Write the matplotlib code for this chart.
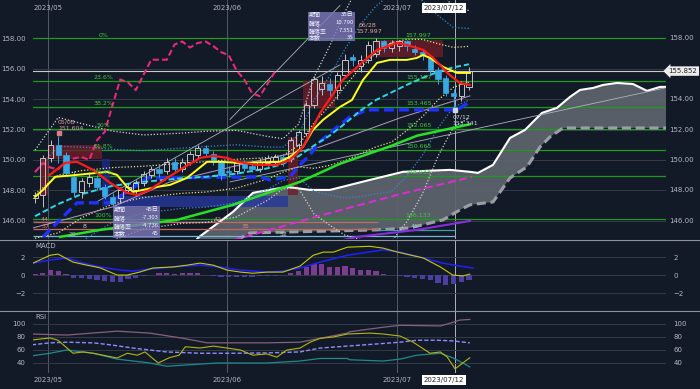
import matplotlib
matplotlib.use("Agg")
import matplotlib.pyplot as plt
import matplotlib.transforms as mtransforms
from matplotlib.patches import Rectangle, Polygon
from matplotlib.lines import Line2D
import numpy as np

plt.rcParams['font.family'] = ['DejaVu Sans', 'Noto Sans CJK JP']

# ---------------- data (bar index 0 = first candle) ----------------
opens = [147.5, 147.7, 150.1, 151.0, 150.3, 148.9, 147.9, 148.5, 148.8, 148.2,
         147.55, 147.5, 148.0, 148.0, 148.5, 149.0, 149.4, 149.3, 149.9, 149.4,
         149.9, 150.3, 150.8, 150.4, 149.9, 149.3, 149.3, 149.8, 149.6, 149.4,
         149.8, 149.9, 150.2, 150.1, 151.0, 151.8, 153.6, 154.7, 155.0, 154.6,
         155.6, 156.8, 156.2, 156.6, 157.0, 157.8, 157.4, 157.5, 157.8, 157.3,
         157.1, 156.7, 155.9, 155.4, 154.4, 154.2, 154.8]
highs = [147.9, 150.3, 151.3, 151.604, 150.5, 149.3, 148.8, 149.2, 149.0, 148.4,
         147.8, 148.2, 148.5, 148.7, 149.3, 149.6, 149.6, 150.1, 150.1, 150.1,
         150.6, 151.0, 151.0, 150.6, 150.0, 149.6, 150.0, 150.0, 150.0, 150.1,
         150.3, 150.4, 150.4, 151.5, 152.0, 153.8, 155.5, 155.5, 155.4, 155.8,
         157.0, 157.0, 156.9, 157.8, 157.997, 157.9, 157.9, 157.9, 157.9, 157.6,
         157.3, 156.9, 156.1, 155.6, 154.7, 155.2, 156.1]
lows = [147.2, 146.9, 149.9, 149.8, 149.0, 147.6, 147.5, 148.2, 148.0, 147.4,
        146.9, 147.2, 147.8, 147.7, 148.3, 148.8, 148.9, 149.1, 149.2, 149.2,
        149.7, 150.1, 150.2, 149.7, 148.7, 148.9, 149.1, 149.3, 149.2, 149.2,
        149.6, 149.7, 149.6, 149.9, 150.7, 151.6, 153.4, 154.3, 154.2, 154.0,
        155.4, 156.2, 155.8, 156.4, 156.8, 157.1, 157.1, 157.2, 157.2, 156.9,
        156.6, 155.6, 155.0, 154.2, 153.341, 153.9, 154.6]
closes = [147.7, 150.1, 151.0, 150.3, 149.15, 147.9, 148.6, 148.9, 148.2, 147.6,
          147.2, 148.0, 148.2, 148.5, 149.1, 149.4, 149.15, 149.9, 149.4, 149.9,
          150.4, 150.8, 150.45, 149.9, 149.0, 149.2, 149.8, 149.5, 149.4, 149.9,
          150.1, 150.2, 150.0, 151.3, 151.85, 153.6, 155.3, 155.1, 154.6, 155.6,
          156.6, 156.6, 156.6, 157.6, 157.8, 157.4, 157.7, 157.8, 157.5, 157.1,
          156.9, 155.9, 155.3, 154.4, 154.2, 155.0, 155.852]
last_price = 155.852
chikou_shift = 25

# moving averages (knots)
ma_red_x = [1.9, 3.9, 5.4, 7.5, 9.7, 11.9, 13.2, 14.8, 17, 18.7, 21.3, 23, 24.8, 26.1, 28.6,
            31.2, 32.9, 34.6, 35.9, 36.8, 39.7, 42.3, 44.1, 46.7, 48, 50.1, 51.4, 53.2, 54.8, 56.1]
ma_red_y = [149.02, 149.81, 149.88, 149.35, 148.49, 147.83, 147.70, 148.03, 148.8, 149.35, 150.14,
            150.27, 150.14, 149.88, 149.68, 149.68, 150.0, 150.86, 152.18, 153.1, 155.27, 156.45,
            157.24, 157.70, 157.57, 157.24, 156.72, 155.73, 155.07, 154.94]
tenkan_x = [0, 1.03, 2.58, 5.42, 8, 9.29, 10.58, 11.87, 12.65, 13.94, 15.74, 17.42, 19.61, 20.9,
            22.19, 23.87, 26.45, 31.61, 32.9, 34.58, 35.87, 37.16, 39.35, 40.9, 42.32, 44.13, 45.81,
            48, 49.29, 50.06, 50.97, 52.65, 54.45, 56.13]
tenkan_y = [147.57, 148.03, 148.89, 149.02, 149.15, 149.22, 149.02, 148.23, 147.90, 148.03, 148.23,
            148.36, 148.82, 149.35, 149.88, 149.88, 149.81, 149.88, 150.21, 150.86, 151.98, 152.64,
            153.49, 153.95, 155.27, 156.39, 156.59, 156.59, 156.72, 156.91, 156.72, 156.13, 155.73, 155.73]
kijun_x = [1.03, 2.84, 5.42, 9.68, 12.26, 14.45, 29.03, 30.32, 32.9, 34.19, 35.48, 36.77, 38.06,
           40.65, 42.84, 54.45, 56.13]
kijun_y = [144.94, 145.86, 147.18, 147.18, 148.03, 148.82, 148.89, 148.69, 148.89, 149.68, 150.34,
           151.19, 151.78, 152.84, 153.30, 153.30, 153.82]
ma_green_x = [3.23, 8.39, 18.32, 25.55, 34.19, 39.35, 45.81, 49.3, 56.13]
ma_green_y = [144.94, 145.40, 146.06, 147.05, 148.56, 149.75, 150.9, 151.6, 152.35]
ma_magenta_x = [21.3, 27.1, 37.16, 46.71, 56.39]
ma_magenta_y = [144.1, 144.94, 146.39, 147.70, 148.89]
ma_purple_x = [34.2, 41.55, 49.29, 56.13]
ma_purple_y = [144.1, 144.94, 145.40, 145.99]
ma_lav_x = [-0.26, 10.06, 17.42, 26.45, 36.77, 47.1, 56.13]
ma_lav_y = [145.53, 146.92, 148.56, 149.68, 150.86, 152.77, 154.22]

# hand-drawn trend lines: (x0, y0, x1, y1)
trend_lines = [(25.16, 148.56, 81.29, 154.74),
               (7.74, 147.18, 39.35, 156.26),
               (25.16, 152.67, 39.35, 160.17)]

# bollinger (mid line drawn as the cyan dashed line)
bb_x = [0, 3, 6, 10, 14, 19, 22, 26, 30, 32, 34, 36, 38, 40, 42, 44, 46, 48, 50, 52, 54, 56]
bb_mid = [146.3, 147.1, 147.75, 148.3, 148.56, 148.8, 148.89, 149.1, 149.45, 149.75, 150.25,
          150.95, 151.6, 152.4, 153.25, 153.95, 154.45, 154.95, 155.4, 155.8, 156.1, 156.3]
bb_sigma = [1.45, 1.9, 1.55, 1.2, 1.03, 0.99, 1.0, 0.95, 0.70, 0.55, 0.70, 1.5, 1.96, 2.45,
            2.83, 3.09, 3.27, 3.0, 2.54, 1.85, 1.31, 1.18]

# ichimoku cloud spans
span_a_x = [20, 21.03, 25.55, 28.13, 32.52, 35.48, 38.06, 43.23, 47.48, 53.55, 56.13, 57.16, 59.1,
            61.29, 63.23, 64.26, 65.42, 67.35, 69.03, 70.32, 72, 73.29, 75.1, 77.16, 78.97, 80.65, 81.6]
span_a_y = [144.1, 144.88, 146.59, 147.84, 148.23, 148.03, 148.03, 148.69, 149.22, 149.35, 149.22,
            149.15, 149.68, 151.45, 151.98, 152.51, 153.1, 153.43, 154.15, 154.61, 154.74, 154.94,
            155.07, 155.0, 154.55, 154.81, 154.81]
span_b_x = [21.29, 27.74, 44.13, 48.39, 52.65, 54.84, 56.13, 59.1, 61.29, 63.48, 65.16, 66.45, 68.13, 81.6]
span_b_y = [143.4, 145.2, 145.4, 145.53, 146.06, 146.72, 147.05, 147.24, 148.82, 149.55, 150.86,
            151.52, 152.11, 152.11]

# fibonacci retracement (06/28 high -> low)
fib_levels = [157.997, 155.197, 153.465, 152.065, 150.665, 148.933, 146.133]
fib_pct = ['0%', '23.6%', '38.2%', '50%', '61.8%', '76.4%', '100%']

# MACD
macd_x = [-0.26, 1.94, 2.97, 4.9, 6.7, 8.4, 10.6, 11.9, 13.5, 15.2, 17.8, 19.6, 21.3, 23, 24.8,
          26.5, 28.1, 29.9, 32, 34.2, 35.9, 37.2, 38.5, 40.3, 43.2, 44.9, 46.8, 50.1, 52.3, 53.9, 55.2, 56.1]
macd_y = [1.33, 2.2, 2.33, 1.44, 1.1, 0.8, 0.0, 0.0, 0.33, 0.78, 0.9, 1.1, 1.33, 1.1, 0.55, 0.33,
          0.2, 0.33, 0.33, 1.0, 2.2, 2.55, 2.55, 3.1, 3.2, 3.0, 2.55, 1.9, 0.9, 0.0, -0.1, 0.1]
signal_x = [-0.26, 1.94, 4.13, 6.2, 8.4, 10.97, 12.6, 14.8, 17.8, 21.3, 23.9, 26.5, 29.9, 32,
            34.2, 36.8, 40.3, 44.9, 47.1, 50.1, 52.6, 54.8, 56.5]
signal_y = [1.33, 1.67, 1.9, 1.33, 0.9, 0.55, 0.44, 0.67, 0.9, 1.1, 0.9, 0.55, 0.33, 0.44,
            0.78, 1.44, 2.2, 2.8, 2.55, 1.9, 1.33, 1.0, 0.78]
macd_hist = [0.1, 0.2, 0.6, 0.5, 0.15, -0.3, -0.3, -0.4, -0.55, -0.7,
             -0.8, -0.75, -0.4, -0.3, -0.05, 0.05, 0.2, 0.2, 0.15, 0.2,
             0.25, 0.2, 0.05, -0.05, -0.2, -0.2, -0.2, -0.25, -0.2, -0.15,
             -0.1, -0.05, 0.05, 0.2, 0.4, 0.9, 1.2, 1.2, 0.9, 0.9,
             1.0, 0.8, 0.6, 0.6, 0.4, 0.15, 0.05, -0.05, -0.2, -0.3,
             -0.45, -0.6, -0.85, -1.1, -1.0, -0.8, -0.6]

# RSI
rsi_x = [-0.39, 1.94, 2.97, 4.9, 6.2, 7.5, 10.6, 11.9, 13.2, 14.2, 15.9, 17.3, 18.6, 19.4, 21.3,
         23, 24.8, 26.5, 28.1, 29.9, 31.2, 32.5, 34.2, 35.5, 36.8, 38.5, 40.3, 43.2, 44.9, 47.1,
         48.8, 50.97, 52.3, 53.2, 54.2, 55.2, 56.1]
rsi_y = [75.4, 78.5, 75, 55, 57, 55, 47.7, 55, 52, 57, 40, 48, 52, 65, 63, 66, 63, 60, 52, 54,
         49, 60, 63, 72, 78, 80, 84.6, 86, 84.6, 81.5, 72, 55, 57, 49, 31, 40, 48]
rsi_mid_x = [-0.39, 1.94, 4.1, 7.5, 9.7, 12.6, 17, 21.3, 25.5, 29.9, 34.2, 36.8, 40.3, 44.9, 47.1,
             49.3, 51.9, 53.9, 56.1]
rsi_mid_y = [68, 71, 72, 71, 68, 63, 57, 55, 55, 55.5, 57, 63, 66, 70, 72, 75, 75, 74, 71]
rsi_hi_x = [-0.39, 4.1, 10.6, 14.8, 19.1, 22.2, 25.5, 29.9, 34.2, 36.8, 40.3, 40.6, 44.9, 47.1,
            52.3, 53.5, 54.8, 56.1]
rsi_hi_y = [84.6, 83, 89, 86, 78, 71, 71, 71, 72, 78, 86, 88, 95, 98, 97, 101, 106, 107]
rsi_lo_x = [-0.39, 1.94, 4.1, 7.5, 10.6, 14.8, 17, 19.6, 23.5, 29.9, 34.2, 36.8, 40.3, 40.6, 44.9,
            47.1, 49.3, 52.3, 53.9, 55.2, 56.1]
rsi_lo_y = [51, 55, 60, 55, 46, 40, 35, 37, 40, 40, 43, 47, 47, 45, 43, 46, 52, 55, 48, 40, 34]

# date markers
month_pos = [1.7, 24.8, 46.7]
month_labels = ['2023/05', '2023/06', '2023/07']
cursor_pos = 54.2
cursor_label = '2023/07/12'

# ---------------- colours ----------------
BG = '#131a27'
GRID = '#333a49'
TXT = '#b3b8c2'

fig = plt.figure(figsize=(7, 3.89), dpi=100, facecolor=BG)
L, W = 33 / 700, 633 / 700
ax = fig.add_axes([L, 1 - 239 / 389, W, 239 / 389])
axm = fig.add_axes([L, 1 - 311 / 389, W, 71 / 389])
axr = fig.add_axes([L, 1 - 373 / 389, W, 62 / 389])
XMIN, XMAX = -0.26, 81.42

for a in (ax, axm, axr):
    a.set_facecolor(BG)
    a.set_xlim(XMIN, XMAX)
    for s in a.spines.values():
        s.set_visible(False)
    a.set_xticks([])
    a.tick_params(axis='y', which='major', left=False, right=False, labelleft=True,
                  labelright=True, labelsize=5, colors=TXT, pad=2)
    for m in month_pos:
        a.axvline(m, color='#5d6472', lw=0.6, zorder=1)
    a.axvline(cursor_pos, color='#c9ccd2', lw=0.6, zorder=1)

# ---------------- main price panel ----------------
price_ticks = [146, 148, 150, 152, 154, 156, 158]
ax.set_ylim(144.8, 160.53)
ax.set_yticks(price_ticks)
ax.set_yticklabels(['%.2f' % v for v in price_ticks])
ax.tick_params(axis='y', labelright=False)
blend = mtransforms.blended_transform_factory(ax.transAxes, ax.transData)
for v in price_ticks:
    ax.axhline(v, color=GRID, lw=0.7, zorder=1)
    # right hand label of 156 is hidden behind the price tag
    if abs(v - last_price) > 0.5:
        ax.text(1.0045, v, '%.2f' % v, transform=blend, fontsize=5, color=TXT, va='center',
                ha='left', clip_on=False)

# ichimoku cloud
cloud = Polygon(list(zip(span_a_x, span_a_y)) + list(zip(span_b_x, span_b_y))[::-1],
                closed=True, fc='#5d626c', ec='none', alpha=0.95, zorder=2)
ax.add_patch(cloud)
ax.plot(span_b_x, span_b_y, color='#9b9ea4', lw=2.2, ls=(0, (3, 1.5)), zorder=3)
ax.plot(span_a_x, span_a_y, color='white', lw=1.5, zorder=3)

# fibonacci lines
for lv, pc in zip(fib_levels, fib_pct):
    ax.axhline(lv, color='#1f9a1f', lw=0.9, zorder=2)
    ax.text(8.8, lv + 0.06, pc, color='#3cc83c', fontsize=4.5, ha='center', va='bottom', zorder=9)
    ax.text(49.5, lv + 0.06, '%.3f' % lv, color='#3cc83c', fontsize=4.5, ha='center', va='bottom', zorder=9)

# price line
ax.axhline(last_price, color='#c9c9c9', lw=0.8, zorder=2)

# shaded boxes
boxes = [(0.6, 1.7, 147.7, 150.1, '#7a1e2a'), (1.7, 8.6, 150.07, 151.0, '#6e1d28'),
         (32.6, 33.9, 147.7, 151.5, '#6e1d28'), (34.6, 38.7, 153.4, 155.2, '#6e1d28'),
         (44.0, 52.6, 156.8, 157.9, '#6e1d28'),
         (8.65, 9.68, 147.0, 150.07, '#1b2a8a'), (10.1, 32.6, 146.92, 147.6, '#27379c')]
for x0, x1, y0, y1, col in boxes:
    ax.add_patch(Rectangle((x0, y0), x1 - x0, y1 - y0, fc=col, ec='none', alpha=0.8, zorder=2))

# count lines at the bottom
ax.hlines([145.9, 145.47], -0.3, 44.2, color='#c06a62', lw=0.9, zorder=3)
ax.hlines(145.4, 44.2, 54.2, color='#3f9fa6', lw=0.9, zorder=3)
ax.hlines(144.97, -0.3, 54.2, color='#76b6d6', lw=0.9, zorder=3)
count_labels = [(1.3, 146.1, '44', '#d88a8a'), (1.3, 145.62, '37', '#d88a8a'),
                (6.45, 145.62, '8', '#d0d0d0'), (4.9, 145.12, '29', '#a8b0c0'),
                (23.6, 146.1, '42', '#d88a8a'), (27.1, 145.62, '35', '#d88a8a'),
                (32.0, 145.12, '52', '#c0c8d8'), (49.0, 145.62, '41', '#8fc6e0')]
for x, y, t, c in count_labels:
    ax.text(x, y, t, color=c, fontsize=4.5, ha='center', va='center', zorder=9)

# bollinger bands
bb_mid_a = np.array(bb_mid)
bb_sig_a = np.array(bb_sigma)
for k, col in [(1, '#e6dc8c'), (2, '#3a86c8'), (3, '#d2d2d2')]:
    for sgn in (1, -1):
        ax.plot(bb_x, bb_mid_a + sgn * k * bb_sig_a, color=col, lw=0.9, ls=(0, (1, 1.5)), zorder=3)

# thin lines
ax.plot(ma_lav_x, ma_lav_y, color='#b89ac0', lw=0.7, zorder=3)
for x0, y0, x1, y1 in trend_lines:
    ax.plot([x0, x1], [y0, y1], color='#aeb2ba', lw=0.6, zorder=3)

# moving averages
ax.plot(ma_purple_x, ma_purple_y, color='#8a2be2', lw=1.5, zorder=4)
ax.plot(ma_magenta_x, ma_magenta_y, color='#e02ad8', lw=1.4, ls=(0, (4, 2)), zorder=4)
ax.plot(ma_green_x, ma_green_y, color='#27e027', lw=1.8, zorder=4)
ax.plot(kijun_x, kijun_y, color='#1f30ff', lw=2.4, ls=(0, (3, 1.5)), zorder=4)
ax.plot(bb_x, bb_mid, color='#2fd6e6', lw=1.4, ls=(0, (3, 1.5)), zorder=4)
ax.plot(tenkan_x, tenkan_y, color='#ffff1a', lw=1.4, zorder=7)
ax.plot(ma_red_x, ma_red_y, color='#ff1a1a', lw=1.6, zorder=7)

# chikou span
idx = np.arange(len(closes))
ax.plot(idx[chikou_shift:] - chikou_shift, closes[chikou_shift:], color='#e8287a', lw=1.5,
        ls=(0, (3, 1.5)), zorder=4)

# candles
for i in idx:
    o, h, l, c = opens[i], highs[i], lows[i], closes[i]
    lo_b, hi_b = min(o, c), max(o, c)
    if c >= o:
        col = '#c4c4c8'
        ax.add_patch(Rectangle((i - 0.33, lo_b), 0.66, max(hi_b - lo_b, 0.04), fc='none', ec=col,
                               lw=0.7, zorder=6))
    else:
        col = '#3aa8e2'
        ax.add_patch(Rectangle((i - 0.33, lo_b), 0.66, max(hi_b - lo_b, 0.04), fc=col, ec=col,
                               lw=0.5, zorder=6))
    ax.vlines(i, hi_b, h, color=col, lw=0.7, zorder=6)
    ax.vlines(i, l, lo_b, color=col, lw=0.7, zorder=6)

# period boxes
jp = ['Noto Sans CJK JP', 'DejaVu Sans']
info_boxes = [(35.2, 41.3, 157.84, 159.75, [159.55, 159.03, 158.5, 158.04],
               ['35日', '10.790', '7.351', '35']),
              (10.06, 16.1, 144.88, 146.98, [146.72, 146.19, 145.66, 145.14],
               ['45日', '-7.303', '-4.736', '45'])]
for x0, x1, y0, y1, rows, vals in info_boxes:
    ax.add_patch(Rectangle((x0, y0), x1 - x0, y1 - y0, fc='#7d79b9', ec='none', alpha=0.8, zorder=8))
    for ry, lab, val in zip(rows, ['期間', '騰落', '騰落率', '本数'], vals):
        ax.text(x0 + 0.15, ry, lab, family=jp, fontsize=4.3, color='#f2f2ff', va='center', zorder=9)
        ax.text(x1 - 0.15, ry, val, family=jp, fontsize=4.3, color='#f2f2ff', va='center',
                ha='right', zorder=9)

# point annotations
ax.plot(3.1, 151.78, 's', color='#e07b86', ms=2.5, zorder=9)
ax.plot(54.2, 153.3, 's', color='#c8d8f0', ms=2.2, zorder=9)
notes = [(2.97, 152.5, '05/08', '#d99c9c'), (2.97, 152.05, '151.604', '#d99c9c'),
         (41.7, 158.9, '06/28', '#e3a3a3'), (41.4, 158.43, '157.997', '#e3a3a3'),
         (53.9, 152.84, '07/12', '#c8d0e0'), (53.9, 152.42, '153.341', '#c8d0e0')]
for x, y, t, c in notes:
    ax.text(x, y, t, color=c, fontsize=4.5, va='center', zorder=9)

# price tag and date labels
ax.text(1.004, last_price, '%.3f' % last_price, transform=blend, fontsize=5, color='#222',
        va='center', ha='left', clip_on=False, zorder=10,
        bbox=dict(boxstyle='larrow,pad=0.25', fc='#ececec', ec='none'))
xblend = ax.get_xaxis_transform()
for m, lab in zip(month_pos, month_labels):
    ax.text(m, 0.967, lab, transform=xblend, fontsize=5, color=TXT, ha='center', va='center')
    axr.text(m, -0.115, lab, transform=axr.get_xaxis_transform(), fontsize=5, color=TXT,
             ha='center', va='center', clip_on=False)
for a, yy in ((ax, 0.967), (axr, -0.115)):
    a.text(52.8, yy, cursor_label, transform=a.get_xaxis_transform(), fontsize=5, color='#222',
           ha='center', va='center', clip_on=False, zorder=10,
           bbox=dict(boxstyle='square,pad=0.25', fc='white', ec='none'))

# ---------------- MACD panel ----------------
axm.set_ylim(-4.0, 3.9)
axm.set_yticks([-2, 0, 2])
for v in [-2, 0, 2]:
    axm.axhline(v, color=GRID, lw=0.7, zorder=1)
hist_cols = ['#7d3d8f' if v >= 0 else '#4b3fa0' for v in macd_hist]
axm.bar(idx, macd_hist, width=0.66, color=hist_cols, zorder=2)
axm.plot(signal_x, signal_y, color='#2020ff', lw=1.1, zorder=3)
axm.plot(macd_x, macd_y, color='#c8c80a', lw=0.8, zorder=3)
axm.text(0.004, 0.92, 'MACD', transform=axm.transAxes, fontsize=5, color=TXT, va='center')

# ---------------- RSI panel ----------------
axr.set_ylim(24.6, 120)
axr.set_yticks([40, 60, 80, 100])
for v in [40, 60, 80, 100]:
    axr.axhline(v, color=GRID, lw=0.7, zorder=1)
axr.plot(rsi_hi_x, rsi_hi_y, color='#86607e', lw=0.9, zorder=2)
axr.plot(rsi_lo_x, rsi_lo_y, color='#1f8a8a', lw=0.9, zorder=2)
axr.plot(rsi_mid_x, rsi_mid_y, color='#8c8cff', lw=1.0, ls=(0, (3, 1.5)), zorder=3)
axr.plot(rsi_x, rsi_y, color='#b4b414', lw=0.8, zorder=4)
axr.text(0.004, 0.9, 'RSI', transform=axr.transAxes, fontsize=5, color=TXT, va='center')

# panel separators
for yp in (239.5, 311):
    fig.add_artist(Line2D([0, 1], [1 - yp / 389] * 2, transform=fig.transFigure,
                          color='#8e939c', lw=0.8))

fig.savefig('out.png', dpi=100, facecolor=BG)
